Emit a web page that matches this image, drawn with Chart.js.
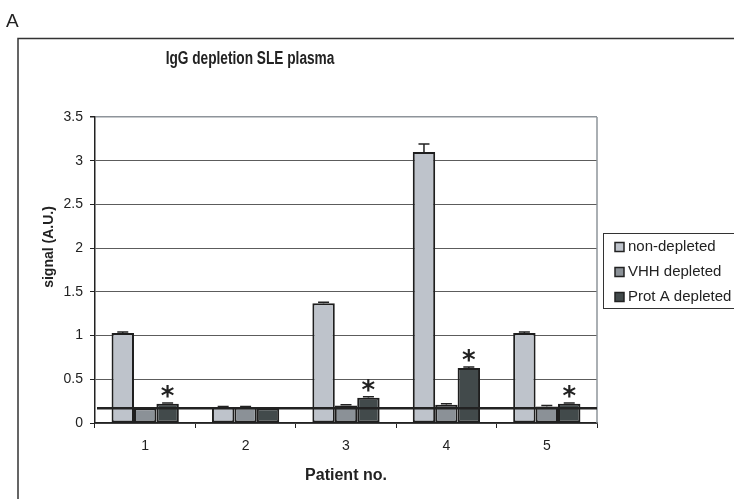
<!DOCTYPE html>
<html>
<head>
<meta charset="utf-8">
<script src="https://cdn.jsdelivr.net/npm/chart.js@4/dist/chart.umd.min.js"></script>
<style>
  html, body { margin: 0; padding: 0; background: #fff; }
  #wrap { width: 734px; height: 499px; position: relative; }
</style>
</head>
<body>
<div id="wrap"><canvas id="chart" width="734" height="499"></canvas></div>
<script>
// Data
const patients = ['1', '2', '3', '4', '5'];
const nonDepleted = [1.03, 0.18, 1.37, 3.10, 1.03];
const vhhDepleted = [0.17, 0.18, 0.20, 0.21, 0.19];
const protADepleted = [0.22, 0.17, 0.29, 0.63, 0.22];
const nonDepletedErr = [0.01, 0.01, 0.01, 0.09, 0.01];
const vhhDepletedErr = [0.00, 0.01, 0.01, 0.01, 0.01];
const protADepletedErr = [0.01, 0.00, 0.01, 0.01, 0.01];
const significant = [true, false, true, true, true]; // asterisk over Prot A bar
const cutoff = 0.17;
const yTicks = [0, 0.5, 1, 1.5, 2, 2.5, 3, 3.5];

const errors = [nonDepletedErr, vhhDepletedErr, protADepletedErr];
const plain = "'Liberation Sans', Arial, sans-serif";

// Extra drawing: frame, panel letter, titles, cutoff line, error bars, asterisks, legend
const decorations = {
    id: 'decorations',
    beforeDraw(chart) {
        const ctx = chart.ctx;
        ctx.save();
        ctx.fillStyle = '#fff';
        ctx.fillRect(0, 0, chart.width, chart.height);
        ctx.strokeStyle = '#333';
        ctx.lineWidth = 1.5;
        ctx.strokeRect(18, 38.5, 800, 600);
        ctx.fillStyle = '#222';
        ctx.font = "19px " + plain;
        ctx.textBaseline = 'alphabetic';
        ctx.textAlign = 'left';
        ctx.fillText('A', 6, 27);
        // title, squeezed to look like a narrow face
        ctx.font = "bold 18px " + plain;
        ctx.textAlign = 'center';
        ctx.textBaseline = 'middle';
        ctx.save();
        ctx.translate(250, 59);
        ctx.scale(0.76, 1);
        ctx.fillText('IgG depletion SLE plasma', 0, 0);
        ctx.restore();
        // y axis title (sits a little above the plot's middle in the original)
        ctx.font = "bold 14px " + plain;
        ctx.translate(49, 247);
        ctx.rotate(-Math.PI / 2);
        ctx.fillText('signal (A.U.)', 0, 0);
        ctx.restore();
    },
    afterDatasetsDraw(chart) {
        const ctx = chart.ctx;
        const area = chart.chartArea;
        const y = chart.scales.y;
        ctx.save();
        // right plot border
        ctx.strokeStyle = '#8e949a';
        ctx.lineWidth = 1.5;
        ctx.beginPath();
        ctx.moveTo(area.right, area.top);
        ctx.lineTo(area.right, area.bottom);
        ctx.stroke();

        // error bars
        ctx.strokeStyle = '#222';
        ctx.lineWidth = 1.5;
        chart.data.datasets.forEach((ds, di) => {
            const meta = chart.getDatasetMeta(di);
            meta.data.forEach((bar, i) => {
                const err = errors[di][i];
                if (!err) return;
                const yTop = y.getPixelForValue(ds.data[i] + err);
                ctx.beginPath();
                ctx.moveTo(bar.x, bar.y);
                ctx.lineTo(bar.x, yTop);
                ctx.moveTo(bar.x - 5.5, yTop);
                ctx.lineTo(bar.x + 5.5, yTop);
                ctx.stroke();
            });
        });

        // cutoff line
        const yc = y.getPixelForValue(cutoff);
        ctx.strokeStyle = '#222';
        ctx.lineWidth = 2.5;
        ctx.beginPath();
        ctx.moveTo(area.left + 2, yc);
        ctx.lineTo(area.right, yc);
        ctx.stroke();

        // asterisks
        const metaA = chart.getDatasetMeta(2);
        ctx.fillStyle = '#222';
        ctx.font = "bold 26px 'DejaVu Sans', sans-serif";
        ctx.textAlign = 'center';
        ctx.textBaseline = 'alphabetic';
        metaA.data.forEach((bar, i) => {
            if (significant[i]) ctx.fillText('*', bar.x, bar.y + 1);
        });

        // legend
        const lx = 603, ly = 233, lh = 75;
        ctx.strokeStyle = '#333';
        ctx.lineWidth = 1;
        ctx.strokeRect(lx + 0.5, ly + 0.5, 200, lh);
        ctx.font = "15px " + plain;
        ctx.textAlign = 'left';
        ctx.textBaseline = 'middle';
        chart.data.datasets.forEach((ds, di) => {
            const cy = 247 + di * 25;
            ctx.fillStyle = ds.backgroundColor;
            ctx.fillRect(615, cy - 4.5, 9, 9);
            ctx.strokeStyle = '#222';
            ctx.lineWidth = 1.5;
            ctx.strokeRect(615, cy - 4.5, 9, 9);
            ctx.fillStyle = '#222';
            ctx.fillText(ds.label, 628, cy);
        });
        ctx.restore();
    }
};

const barStyle = { borderColor: '#1e1e1e', borderWidth: 2, borderSkipped: false,
    barPercentage: 1.0, categoryPercentage: 0.67 };

new Chart(document.getElementById('chart'), {
    type: 'bar',
    data: {
        labels: patients,
        datasets: [
            Object.assign({ label: 'non-depleted', data: nonDepleted, backgroundColor: '#bec3cb' }, barStyle),
            Object.assign({ label: 'VHH depleted', data: vhhDepleted, backgroundColor: '#8b9197' }, barStyle),
            Object.assign({ label: 'Prot A depleted', data: protADepleted, backgroundColor: '#424a4b' }, barStyle)
        ]
    },
    options: {
        responsive: false,
        animation: false,
        layout: { padding: { left: 37, right: 137, top: 117, bottom: 14 } },
        plugins: {
            legend: { display: false },
            tooltip: { enabled: false },
            title: { display: false }
        },
        scales: {
            x: {
                grid: { display: true, drawOnChartArea: false, drawTicks: true, tickLength: 5,
                        tickColor: '#222', offset: true },
                border: { color: '#222', width: 1.5 },
                ticks: { color: '#222', padding: 10, font: { family: plain, size: 14 } },
                title: { display: true, text: 'Patient no.', color: '#222', padding: { top: 8, bottom: 0 },
                         font: { family: plain, size: 16, weight: 'bold' } },
                afterFit(scale) { scale.height = 62; }
            },
            y: {
                min: 0,
                max: 3.5,
                afterBuildTicks(scale) { scale.ticks = yTicks.map(v => ({ value: v })); },
                grid: {
                    color: ctx => ctx.tick && ctx.tick.value === 3.5 ? '#8e949a' : '#5c5c5c',
                    lineWidth: ctx => ctx.tick && ctx.tick.value === 3.5 ? 1.5 : 1,
                    tickLength: 5, tickColor: '#222'
                },
                border: { color: '#222', width: 1.5 },
                ticks: { color: '#222', padding: 7, font: { family: plain, size: 14 },
                         callback: value => String(value) },
                title: { display: false },
                afterFit(scale) { scale.width = 58; }
            }
        }
    },
    plugins: [decorations]
});
</script>
</body>
</html>
